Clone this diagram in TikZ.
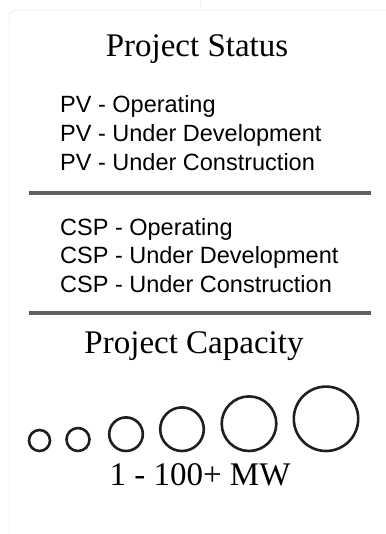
\documentclass[tikz,border=0pt]{standalone}
\usepackage{fontspec}
\setmainfont{Liberation Serif}
\setsansfont{Liberation Sans}

\begin{document}
\begin{tikzpicture}[x=1pt, y=-1pt,
    title/.style={anchor=base, inner sep=0pt, font=\fontsize{33}{36}\selectfont},
    item/.style={anchor=base west, inner sep=0pt, font=\sffamily\fontsize{23.5}{26}\selectfont},
    rule/.style={line width=4.5pt, black!62},
    bubble/.style={line width=2.6pt, black!88}]
            \useasboundingbox (0,0) rectangle (385,534);

            % faint panel
            \draw[black!5, line width=1pt, rounded corners=8pt] (9,540) -- (9,10) -- (395,10);
            \draw[black!5, line width=1pt] (200,0) -- (200,10);

            % status
            \node[title] (status) at (197,57) {Project Status};
            \node[item] (pvop) at (60,113) {PV - Operating};
            \node[item] (pvdev) at (60,142) {PV - Under Development};
            \node[item] (pvcon) at (60,171) {PV - Under Construction};

            \draw[rule] (29,193) -- (371,193);

            \node[item] (cspop) at (60,235) {CSP - Operating};
            \node[item] (cspdev) at (60,263) {CSP - Under Development};
            \node[item] (cspcon) at (60,292) {CSP - Under Construction};

            \draw[rule] (29,313) -- (371,313);

            % capacity
            \node[title] (capacity) at (194,353) {Project Capacity};

            \foreach \cx/\r in {39.5/10.5, 78/11.5, 126/16.8, 182/21.8, 249/27.3, 326/32.2}
                \draw[bubble] (\cx,451-\r) circle (\r);

            \node[title] (range) at (200,485) {1 - 100+ MW};
\end{tikzpicture}
\end{document}
